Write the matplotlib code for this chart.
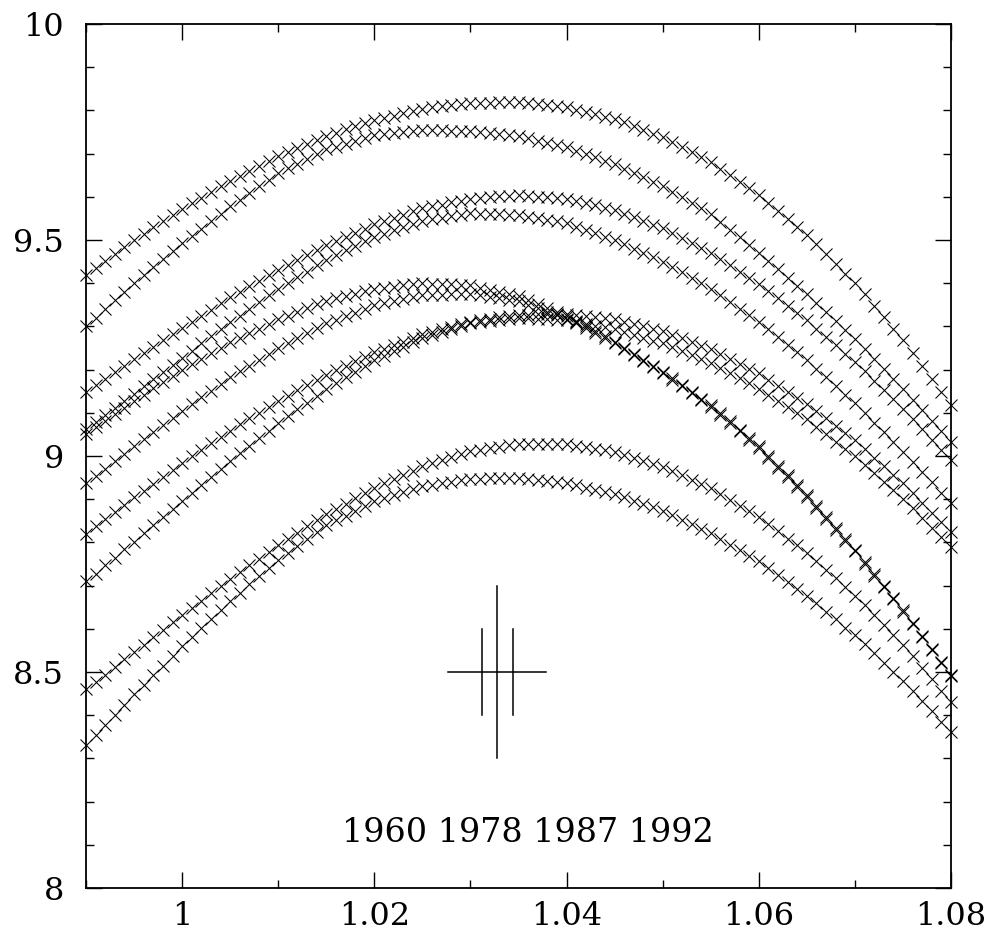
import matplotlib
matplotlib.use("Agg")
import matplotlib.pyplot as plt
from matplotlib.ticker import MultipleLocator, FixedLocator, FixedFormatter

# abscissa of every sample (shared by all model tracks)
x_grid = [0.990, 0.991, 0.992, 0.993, 0.994, 0.995, 0.996, 0.997, 0.998, 0.999,
          1.000, 1.001, 1.002, 1.003, 1.004, 1.005, 1.006, 1.007, 1.008, 1.009,
          1.010, 1.011, 1.012, 1.013, 1.014, 1.015, 1.016, 1.017, 1.018, 1.019,
          1.020, 1.021, 1.022, 1.023, 1.024, 1.025, 1.026, 1.027, 1.028, 1.029,
          1.030, 1.031, 1.032, 1.033, 1.034, 1.035, 1.036, 1.037, 1.038, 1.039,
          1.040, 1.041, 1.042, 1.043, 1.044, 1.045, 1.046, 1.047, 1.048, 1.049,
          1.050, 1.051, 1.052, 1.053, 1.054, 1.055, 1.056, 1.057, 1.058, 1.059,
          1.060, 1.061, 1.062, 1.063, 1.064, 1.065, 1.066, 1.067, 1.068, 1.069,
          1.070, 1.071, 1.072, 1.073, 1.074, 1.075, 1.076, 1.077, 1.078, 1.079,
          1.080]

track_a = [9.420, 9.436, 9.452, 9.468, 9.484, 9.500, 9.514, 9.529, 9.543, 9.558,
           9.572, 9.585, 9.598, 9.611, 9.624, 9.637, 9.648, 9.660, 9.671, 9.683,
           9.694, 9.703, 9.713, 9.722, 9.732, 9.741, 9.748, 9.756, 9.763, 9.771,
           9.778, 9.783, 9.788, 9.794, 9.799, 9.804, 9.807, 9.810, 9.812, 9.815,
           9.818, 9.818, 9.818, 9.819, 9.819, 9.819, 9.817, 9.814, 9.812, 9.809,
           9.807, 9.802, 9.796, 9.791, 9.785, 9.780, 9.772, 9.763, 9.755, 9.746,
           9.738, 9.726, 9.715, 9.703, 9.692, 9.680, 9.665, 9.650, 9.635, 9.620,
           9.605, 9.586, 9.568, 9.549, 9.531, 9.512, 9.490, 9.467, 9.445, 9.422,
           9.400, 9.374, 9.348, 9.321, 9.295, 9.269, 9.239, 9.208, 9.178, 9.148,
           9.118]
track_b = [9.300, 9.320, 9.340, 9.360, 9.380, 9.400, 9.418, 9.437, 9.455, 9.474,
           9.492, 9.509, 9.526, 9.544, 9.561, 9.578, 9.593, 9.609, 9.624, 9.640,
           9.655, 9.666, 9.677, 9.688, 9.699, 9.710, 9.716, 9.723, 9.729, 9.736,
           9.742, 9.745, 9.747, 9.750, 9.752, 9.755, 9.754, 9.754, 9.753, 9.753,
           9.752, 9.750, 9.747, 9.745, 9.742, 9.740, 9.735, 9.730, 9.725, 9.720,
           9.715, 9.707, 9.699, 9.691, 9.683, 9.675, 9.665, 9.655, 9.645, 9.635,
           9.625, 9.612, 9.599, 9.586, 9.573, 9.560, 9.542, 9.524, 9.506, 9.488,
           9.470, 9.451, 9.432, 9.413, 9.394, 9.375, 9.354, 9.333, 9.312, 9.291,
           9.270, 9.247, 9.224, 9.201, 9.178, 9.155, 9.130, 9.106, 9.081, 9.057,
           9.032]
track_c = [9.149, 9.164, 9.179, 9.194, 9.209, 9.224, 9.239, 9.253, 9.268, 9.282,
           9.297, 9.311, 9.325, 9.339, 9.353, 9.367, 9.380, 9.393, 9.405, 9.418,
           9.431, 9.442, 9.454, 9.465, 9.477, 9.488, 9.498, 9.507, 9.517, 9.526,
           9.536, 9.543, 9.551, 9.558, 9.566, 9.573, 9.578, 9.582, 9.587, 9.591,
           9.596, 9.598, 9.599, 9.601, 9.602, 9.604, 9.602, 9.600, 9.599, 9.597,
           9.595, 9.590, 9.585, 9.580, 9.575, 9.570, 9.561, 9.553, 9.544, 9.535,
           9.527, 9.516, 9.504, 9.493, 9.481, 9.470, 9.456, 9.442, 9.427, 9.413,
           9.399, 9.382, 9.365, 9.348, 9.331, 9.314, 9.295, 9.276, 9.256, 9.237,
           9.218, 9.196, 9.174, 9.153, 9.131, 9.109, 9.085, 9.062, 9.038, 9.015,
           8.991]
track_d = [9.062, 9.078, 9.095, 9.111, 9.128, 9.144, 9.161, 9.178, 9.194, 9.211,
           9.228, 9.244, 9.261, 9.277, 9.294, 9.310, 9.325, 9.341, 9.356, 9.372,
           9.387, 9.400, 9.414, 9.427, 9.441, 9.454, 9.465, 9.476, 9.486, 9.497,
           9.508, 9.515, 9.523, 9.530, 9.538, 9.545, 9.548, 9.552, 9.555, 9.559,
           9.562, 9.561, 9.560, 9.560, 9.559, 9.558, 9.554, 9.550, 9.547, 9.543,
           9.539, 9.531, 9.523, 9.516, 9.508, 9.500, 9.490, 9.480, 9.470, 9.460,
           9.450, 9.437, 9.425, 9.412, 9.400, 9.387, 9.372, 9.357, 9.341, 9.326,
           9.311, 9.293, 9.275, 9.258, 9.240, 9.222, 9.202, 9.182, 9.162, 9.142,
           9.122, 9.100, 9.077, 9.055, 9.032, 9.010, 8.986, 8.962, 8.939, 8.915,
           8.891]
track_e = [9.050, 9.066, 9.081, 9.097, 9.112, 9.128, 9.142, 9.157, 9.171, 9.186,
           9.200, 9.213, 9.225, 9.238, 9.250, 9.263, 9.274, 9.285, 9.295, 9.306,
           9.317, 9.325, 9.334, 9.342, 9.351, 9.359, 9.365, 9.370, 9.376, 9.381,
           9.387, 9.390, 9.392, 9.395, 9.397, 9.400, 9.399, 9.398, 9.397, 9.396,
           9.395, 9.390, 9.385, 9.380, 9.375, 9.370, 9.361, 9.352, 9.343, 9.334,
           9.325, 9.313, 9.301, 9.289, 9.277, 9.265, 9.251, 9.237, 9.223, 9.209,
           9.195, 9.180, 9.164, 9.149, 9.133, 9.118, 9.099, 9.080, 9.061, 9.042,
           9.023, 9.000, 8.977, 8.955, 8.932, 8.909, 8.884, 8.859, 8.833, 8.808,
           8.783, 8.755, 8.727, 8.700, 8.672, 8.644, 8.614, 8.583, 8.553, 8.523,
           8.493]
track_f = [8.937, 8.954, 8.971, 8.988, 9.005, 9.022, 9.039, 9.055, 9.072, 9.088,
           9.105, 9.120, 9.136, 9.151, 9.167, 9.182, 9.196, 9.209, 9.223, 9.236,
           9.250, 9.261, 9.273, 9.284, 9.296, 9.307, 9.315, 9.324, 9.332, 9.341,
           9.349, 9.354, 9.358, 9.363, 9.367, 9.372, 9.373, 9.373, 9.374, 9.374,
           9.375, 9.372, 9.368, 9.365, 9.361, 9.358, 9.350, 9.342, 9.334, 9.326,
           9.318, 9.307, 9.296, 9.284, 9.273, 9.262, 9.248, 9.234, 9.220, 9.206,
           9.192, 9.176, 9.161, 9.145, 9.130, 9.114, 9.095, 9.076, 9.057, 9.038,
           9.019, 8.996, 8.973, 8.951, 8.928, 8.905, 8.880, 8.855, 8.829, 8.804,
           8.779, 8.751, 8.723, 8.696, 8.668, 8.640, 8.610, 8.580, 8.550, 8.520,
           8.490]
track_g = [8.820, 8.837, 8.854, 8.870, 8.887, 8.904, 8.920, 8.936, 8.952, 8.968,
           8.984, 8.999, 9.014, 9.029, 9.044, 9.059, 9.073, 9.087, 9.100, 9.114,
           9.128, 9.140, 9.152, 9.164, 9.176, 9.188, 9.198, 9.209, 9.219, 9.230,
           9.240, 9.248, 9.257, 9.265, 9.274, 9.282, 9.288, 9.294, 9.299, 9.305,
           9.311, 9.314, 9.317, 9.321, 9.324, 9.327, 9.327, 9.328, 9.328, 9.329,
           9.329, 9.326, 9.324, 9.321, 9.319, 9.316, 9.311, 9.305, 9.300, 9.294,
           9.289, 9.281, 9.272, 9.264, 9.255, 9.247, 9.236, 9.225, 9.213, 9.202,
           9.191, 9.177, 9.163, 9.149, 9.135, 9.121, 9.104, 9.087, 9.070, 9.053,
           9.036, 9.016, 8.996, 8.977, 8.957, 8.937, 8.914, 8.892, 8.869, 8.847,
           8.824]
track_h = [8.710, 8.728, 8.747, 8.765, 8.784, 8.802, 8.821, 8.840, 8.858, 8.877,
           8.896, 8.914, 8.933, 8.951, 8.970, 8.988, 9.006, 9.023, 9.041, 9.058,
           9.076, 9.092, 9.108, 9.123, 9.139, 9.155, 9.168, 9.182, 9.195, 9.209,
           9.222, 9.232, 9.243, 9.253, 9.264, 9.274, 9.281, 9.288, 9.294, 9.301,
           9.308, 9.310, 9.313, 9.315, 9.318, 9.320, 9.319, 9.318, 9.316, 9.315,
           9.314, 9.310, 9.306, 9.302, 9.298, 9.294, 9.287, 9.281, 9.274, 9.267,
           9.261, 9.252, 9.243, 9.233, 9.224, 9.215, 9.203, 9.191, 9.180, 9.168,
           9.156, 9.142, 9.128, 9.113, 9.099, 9.085, 9.068, 9.051, 9.033, 9.016,
           8.999, 8.979, 8.960, 8.940, 8.921, 8.901, 8.879, 8.857, 8.834, 8.812,
           8.790]
track_i = [8.460, 8.477, 8.494, 8.512, 8.529, 8.546, 8.563, 8.580, 8.598, 8.615,
           8.632, 8.649, 8.665, 8.682, 8.698, 8.715, 8.731, 8.747, 8.762, 8.778,
           8.794, 8.808, 8.822, 8.837, 8.851, 8.865, 8.877, 8.890, 8.902, 8.915,
           8.927, 8.937, 8.947, 8.956, 8.966, 8.976, 8.983, 8.990, 8.997, 9.004,
           9.011, 9.014, 9.018, 9.021, 9.025, 9.028, 9.028, 9.028, 9.027, 9.027,
           9.027, 9.023, 9.020, 9.016, 9.013, 9.009, 9.002, 8.995, 8.989, 8.982,
           8.975, 8.965, 8.955, 8.945, 8.935, 8.925, 8.912, 8.899, 8.885, 8.872,
           8.859, 8.842, 8.826, 8.809, 8.793, 8.776, 8.756, 8.736, 8.717, 8.697,
           8.677, 8.654, 8.631, 8.608, 8.585, 8.562, 8.536, 8.510, 8.483, 8.457,
           8.431]
track_j = [8.330, 8.354, 8.377, 8.401, 8.424, 8.448, 8.470, 8.493, 8.515, 8.538,
           8.560, 8.581, 8.602, 8.623, 8.644, 8.665, 8.684, 8.703, 8.722, 8.741,
           8.760, 8.776, 8.792, 8.808, 8.824, 8.840, 8.851, 8.862, 8.873, 8.884,
           8.895, 8.902, 8.909, 8.916, 8.923, 8.930, 8.933, 8.937, 8.940, 8.944,
           8.947, 8.947, 8.948, 8.948, 8.949, 8.949, 8.947, 8.944, 8.942, 8.939,
           8.937, 8.932, 8.927, 8.922, 8.917, 8.912, 8.904, 8.896, 8.889, 8.881,
           8.873, 8.863, 8.852, 8.842, 8.831, 8.821, 8.808, 8.795, 8.782, 8.769,
           8.756, 8.740, 8.724, 8.709, 8.693, 8.677, 8.659, 8.640, 8.622, 8.603,
           8.585, 8.564, 8.543, 8.522, 8.501, 8.480, 8.456, 8.432, 8.409, 8.385,
           8.361]

tracks = [track_a, track_b, track_c, track_d, track_e,
          track_f, track_g, track_h, track_i, track_j]

# typical uncertainty cross
err_x = [1.0312, 1.0328, 1.0344]
err_half_height = [0.1, 0.2, 0.1]
err_y = 8.5
err_half_width = 0.0051

epoch_label = "1960 1978 1987 1992"

x_major = [1.00, 1.02, 1.04, 1.06, 1.08]
x_major_labels = ["1", "1.02", "1.04", "1.06", "1.08"]
y_major = [8.0, 8.5, 9.0, 9.5, 10.0]
y_major_labels = ["8", "8.5", "9", "9.5", "10"]

plt.rcParams["font.family"] = ["DejaVu Serif"]

fig = plt.figure(figsize=(9.89, 9.33), dpi=100)
ax = fig.add_axes([0.087, 0.0482, 0.8746, 0.9261])

for ys in tracks:
    ax.plot(x_grid, ys, linestyle="none", marker="x", markersize=8.6,
            markeredgewidth=0.75, color="black", clip_on=False)

# uncertainty cross
ax.plot([err_x[1] - err_half_width, err_x[1] + err_half_width], [err_y, err_y],
        color="black", linewidth=1.1)
for xe, he in zip(err_x, err_half_height):
    ax.plot([xe, xe], [err_y - he, err_y + he], color="black", linewidth=1.1)

ax.text(1.0360, 8.127, epoch_label, ha="center", va="center", fontsize=24)

ax.set_xlim(0.99, 1.08)
ax.set_ylim(8.0, 10.0)

ax.xaxis.set_major_locator(FixedLocator(x_major))
ax.xaxis.set_major_formatter(FixedFormatter(x_major_labels))
ax.xaxis.set_minor_locator(MultipleLocator(0.01))
ax.yaxis.set_major_locator(FixedLocator(y_major))
ax.yaxis.set_major_formatter(FixedFormatter(y_major_labels))
ax.yaxis.set_minor_locator(MultipleLocator(0.1))

ax.tick_params(which="both", direction="in", top=True, right=True,
               width=1.0, color="black")
ax.tick_params(which="major", length=11.5)
ax.tick_params(which="minor", length=5.8)
ax.tick_params(axis="x", which="major", pad=9, labelsize=23)
ax.tick_params(axis="y", which="major", pad=16, labelsize=23)

for sp in ax.spines.values():
    sp.set_linewidth(1.3)

fig.savefig("out.png", dpi=100)
